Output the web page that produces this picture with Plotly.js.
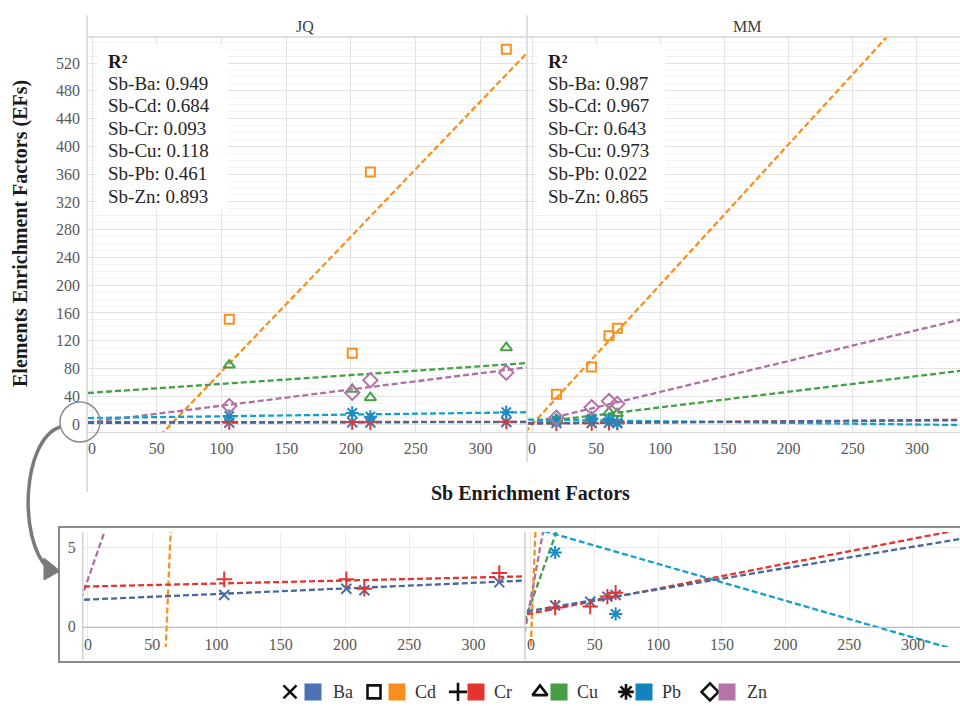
<!DOCTYPE html>
<html>
<head>
<meta charset="utf-8">
<script src="https://cdn.plot.ly/plotly-3.0.1.min.js"></script>
<style>html,body{margin:0;padding:0;background:#fff;}#chart{width:960px;height:706px;}</style>
</head>
<body>
<div id="chart"></div>
<script>
// ---------------- DATA ----------------
const elements = ['Ba', 'Cd', 'Cr', 'Cu', 'Pb', 'Zn'];
const sites = ['JQ', 'MM'];

// Sb enrichment factors (x)
const sbJQ = [106, 201, 215, 320];
const sbMM = [19, 46.5, 60, 66.5];

// Element enrichment factors (y), JQ
const baJQ = [2.0, 2.4, 2.3, 2.8];
const cdJQ = [151, 102, 363, 540];
const crJQ = [3.0, 3.0, 2.4, 3.4];
const cuJQ = [85, 50, 38, 110];
const pbJQ = [11.5, 16, 10.5, 17];
const znJQ = [26, 45, 63, 74];

// Element enrichment factors (y), MM
const baMM = [1.33, 1.58, 1.9, 2.0];
const cdMM = [43, 82, 127, 138];
const crMM = [1.2, 1.27, 1.9, 2.15];
const cuMM = [6.5, 10, 17, 15];
const pbMM = [4.7, 7.5, 6.8, 0.8];
const znMM = [9, 24, 33, 29];

// Linear trendlines: intercepts and slopes (Ba, Cd, Cr, Cu, Pb, Zn)
const interceptJQ = [1.71, -119, 2.54, 45.1, 8.7, 3.0];
const slopeJQ = [0.00354, 1.945, 0.0019, 0.127, 0.0246, 0.234];
const interceptMM = [1.01, -1.0, 0.83, 1.5, 6.3, 1.8];
const slopeMM = [0.0135, 2.02, 0.0158, 0.225, -0.0233, 0.445];

// R² values
const r2JQ = [0.949, 0.684, 0.093, 0.118, 0.461, 0.893];
const r2MM = [0.987, 0.967, 0.643, 0.973, 0.022, 0.865];

// Tick values
const mainYTicks = [0, 40, 80, 120, 160, 200, 240, 280, 320, 360, 400, 440, 480, 520];
const xTicks = [0, 50, 100, 150, 200, 250, 300];
const insetYTicks = [0, 5];

// ---------------- STYLE ----------------
const W = 960, H = 706;
const X = p => p / W;
const Y = p => 1 - p / H;
const SERIF = 'Liberation Serif';

const colors = {Ba: '#4a6ea8', Cd: '#f39020', Cr: '#e5332f', Cu: '#45a045', Pb: '#1a8cc0', Zn: '#b574a8'};
const lineColors = {Ba: '#48679a', Cd: '#f7901e', Cr: '#e5332f', Cu: '#44a044', Pb: '#13a0c8', Zn: '#b06fa3'};
const symbols = {Ba: 'x-thin-open', Cd: 'square-open', Cr: 'cross-thin-open', Cu: 'triangle-up-open', Pb: 'asterisk-open', Zn: 'diamond-open'};
const sizes = {Ba: 10, Cd: 9, Cr: 11, Cu: 10, Pb: 11, Zn: 11};
const lineDrawOrder = [1, 3, 5, 2, 4, 0]; // Cd, Cu, Zn, Cr, Pb, Ba (Ba on top)

const siteData = {
  JQ: {x: sbJQ, y: [baJQ, cdJQ, crJQ, cuJQ, pbJQ, znJQ], b0: interceptJQ, b1: slopeJQ, axes: [['x', 'y'], ['x3', 'y3']]},
  MM: {x: sbMM, y: [baMM, cdMM, crMM, cuMM, pbMM, znMM], b0: interceptMM, b1: slopeMM, axes: [['x2', 'y2'], ['x4', 'y4']]}
};

const traces = [];
const xLineEnds = [-10, 350];
sites.forEach(s => {
  const d = siteData[s];
  d.axes.forEach(([xa, ya]) => {
    lineDrawOrder.forEach(i => {
      const el = elements[i];
      traces.push({
        type: 'scatter', mode: 'lines', xaxis: xa, yaxis: ya, hoverinfo: 'skip', showlegend: false,
        x: xLineEnds, y: xLineEnds.map(v => d.b0[i] + d.b1[i] * v),
        line: {color: lineColors[el], width: 2.3, dash: '6px,3px'}
      });
    });
    elements.forEach((el, i) => {
      traces.push({
        type: 'scatter', mode: 'markers', xaxis: xa, yaxis: ya, showlegend: false, name: el,
        x: d.x, y: d.y[i],
        marker: {symbol: symbols[el], size: sizes[el], color: colors[el], line: {color: colors[el], width: 2}},
        cliponaxis: true
      });
    });
  });
});

// Legend drawn with the library's markers on a hidden axis
const legendSymX = [290, 374, 458, 540, 626, 710];
const legendSqX = [313, 397, 476, 559, 644, 727];
const legendTxtX = [331, 413, 492, 575, 660, 745];
traces.push({
  type: 'scatter', mode: 'markers', xaxis: 'x5', yaxis: 'y5', hoverinfo: 'skip', showlegend: false,
  x: legendSymX, y: legendSymX.map(() => 0.5),
  marker: {symbol: elements.map(e => symbols[e]), size: 13, color: '#111', line: {color: '#111', width: 2.6}}
});
traces.push({
  type: 'scatter', mode: 'markers', xaxis: 'x5', yaxis: 'y5', hoverinfo: 'skip', showlegend: false,
  x: legendSqX, y: legendSqX.map(() => 0.5),
  marker: {symbol: 'square', size: 17, color: ['#4a72b5', '#f7901e', '#e5332f', '#45a045', '#1482bd', '#b574a8']}
});

// ---------------- LAYOUT ----------------
const tf = () => ({family: 'Liberation Serif', size: 16, color: '#595959'});
const mainYDomain = [Y(432), Y(37)];
const insetYDomain = [Y(647), Y(532)];
const gridC = '#e2e2e2';

const xCommon = () => ({tickvals: xTicks, showgrid: true, gridcolor: gridC, zeroline: false, ticks: '', tickfont: tf(), fixedrange: true});

const layout = {
  width: W, height: H, margin: {l: 0, r: 0, t: 0, b: 0},
  font: {family: SERIF, size: 16, color: '#595959'},
  paper_bgcolor: '#fff', plot_bgcolor: 'rgba(0,0,0,0)', showlegend: false,
  xaxis: Object.assign(xCommon(), {domain: [X(87), X(527)], range: [-3.9, 336], anchor: 'y', showline: true, linecolor: '#d9d9d9', ticklabelstandoff: 2}),
  xaxis2: Object.assign(xCommon(), {domain: [X(527), 1], range: [-3.9, 333.6], anchor: 'y2', showline: true, linecolor: '#d9d9d9', ticklabelstandoff: 2}),
  yaxis: {domain: mainYDomain, range: [-11.5, 557.6], tickvals: mainYTicks, anchor: 'x', showgrid: true, gridcolor: gridC, zeroline: false, ticks: '', tickfont: tf(), ticklabelstandoff: 6,
    minor: {dtick: 10, showgrid: true, gridcolor: '#f3f3f3', ticks: ''}},
  yaxis2: {domain: mainYDomain, range: [-11.5, 557.6], tickvals: mainYTicks, anchor: 'x2', showgrid: true, gridcolor: gridC, zeroline: false, showticklabels: false, ticks: '',
    minor: {dtick: 10, showgrid: true, gridcolor: '#f3f3f3', ticks: ''}},
  xaxis3: Object.assign(xCommon(), {domain: [X(82.7), X(525)], range: [-4.1, 340], anchor: 'free', position: Y(627), showline: true, linecolor: '#bdbdbd', ticklabelstandoff: 3, gridcolor: '#ececec'}),
  xaxis4: Object.assign(xCommon(), {domain: [X(525), 1], range: [-4.7, 337], anchor: 'free', position: Y(627), showline: true, linecolor: '#bdbdbd', ticklabelstandoff: 3, gridcolor: '#ececec'}),
  yaxis3: {domain: insetYDomain, range: [-1.3, 6.0], tickvals: insetYTicks, anchor: 'x3', showgrid: true, gridcolor: '#ececec', zeroline: false, ticks: '', tickfont: tf(), ticklabelstandoff: 6},
  yaxis4: {domain: insetYDomain, range: [-1.3, 6.0], tickvals: insetYTicks, anchor: 'x4', showgrid: true, gridcolor: '#ececec', zeroline: false, showticklabels: false, ticks: ''},
  xaxis5: {domain: [0, 1], range: [0, W], visible: false, anchor: 'y5', fixedrange: true},
  yaxis5: {domain: [0, 0.04], range: [0, 1], visible: false, anchor: 'x5', fixedrange: true},
  shapes: [],
  annotations: []
};

// white text boxes behind R² labels
layout.shapes.push({type: 'rect', layer: 'between', xref: 'x', yref: 'y', x0: 3.9, x1: 105, y0: 308, y1: 546, fillcolor: '#fff', line: {width: 0}});
layout.shapes.push({type: 'rect', layer: 'between', xref: 'x2', yref: 'y2', x0: 3.9, x1: 104, y0: 308, y1: 546, fillcolor: '#fff', line: {width: 0}});

const pxLine = (x0, y0, x1, y1, color, width) => ({type: 'line', xref: 'paper', yref: 'paper', x0: X(x0), y0: Y(y0), x1: X(x1), y1: Y(y1), line: {color: color, width: width}});
// panel frame / header strip
layout.shapes.push(pxLine(87, 15, 87, 492, '#d6d6d6', 1.5));
layout.shapes.push(pxLine(527, 15, 527, 462, '#d6d6d6', 1.5));
layout.shapes.push(pxLine(87, 37, 960, 37, '#d6d6d6', 1.5));
// inset frame
layout.shapes.push({type: 'rect', xref: 'paper', yref: 'paper', x0: X(59), x1: X(962), y0: Y(662), y1: Y(527), line: {color: '#8a8a8a', width: 2}, fillcolor: 'rgba(0,0,0,0)'});
layout.shapes.push(pxLine(82.7, 532, 82.7, 660, '#cfcfcf', 1.5));
layout.shapes.push(pxLine(525, 532, 525, 660, '#cfcfcf', 1.5));
// circle and curved arrow
layout.shapes.push({type: 'circle', xref: 'paper', yref: 'paper', x0: X(60), x1: X(100), y0: Y(442), y1: Y(402), line: {color: '#8c8c8c', width: 1.5}});
const P = (x, y) => X(x).toFixed(5) + ',' + Y(y).toFixed(5);
layout.shapes.push({type: 'path', xref: 'paper', yref: 'paper', path: 'M' + P(60, 427) + ' C' + P(22, 440) + ' ' + P(18, 540) + ' ' + P(48, 568), line: {color: '#7a7a7a', width: 3.5}});
layout.shapes.push({type: 'path', xref: 'paper', yref: 'paper', path: 'M' + P(44, 558) + ' L' + P(60, 571) + ' L' + P(44, 580) + ' Z', fillcolor: '#7a7a7a', line: {color: '#7a7a7a', width: 1}});

// strip labels
layout.annotations.push({xref: 'paper', yref: 'paper', x: X(305), y: Y(27), xanchor: 'center', yanchor: 'middle', text: 'JQ', showarrow: false, font: {family: SERIF, size: 16, color: '#404040'}});
layout.annotations.push({xref: 'paper', yref: 'paper', x: X(747), y: Y(27), xanchor: 'center', yanchor: 'middle', text: 'MM', showarrow: false, font: {family: SERIF, size: 16, color: '#404040'}});

// R² blocks
const r2Blocks = [{left: 106, vals: r2JQ}, {left: 546, vals: r2MM}];
r2Blocks.forEach(b => {
  layout.annotations.push({xref: 'paper', yref: 'paper', x: X(b.left), y: Y(61), xanchor: 'left', yanchor: 'middle', text: '<b>R²</b>', showarrow: false, font: {family: SERIF, size: 19, color: '#1a1a1a'}});
  elements.forEach((el, i) => {
    layout.annotations.push({xref: 'paper', yref: 'paper', x: X(b.left), y: Y(83.5 + 22.5 * i), xanchor: 'left', yanchor: 'middle',
      text: 'Sb-' + el + ': ' + b.vals[i].toFixed(3), showarrow: false, font: {family: SERIF, size: 19, color: '#262626'}});
  });
});

// axis titles
layout.annotations.push({xref: 'paper', yref: 'paper', x: X(21), y: Y(234), xanchor: 'center', yanchor: 'middle', text: '<b>Elements Enrichment Factors (EFs)</b>', textangle: -90, showarrow: false, font: {family: SERIF, size: 20, color: '#1a1a1a'}});
layout.annotations.push({xref: 'paper', yref: 'paper', x: X(530), y: Y(493), xanchor: 'center', yanchor: 'middle', text: '<b>Sb Enrichment Factors</b>', showarrow: false, font: {family: SERIF, size: 20, color: '#1a1a1a'}});

// legend names
elements.forEach((el, i) => {
  layout.annotations.push({xref: 'x5', yref: 'y5', x: legendTxtX[i], y: 0.5, xanchor: 'left', yanchor: 'middle', text: el, showarrow: false, font: {family: SERIF, size: 18, color: '#333'}});
});

Plotly.newPlot('chart', traces, layout, {displayModeBar: false, staticPlot: true});
</script>
</body>
</html>
